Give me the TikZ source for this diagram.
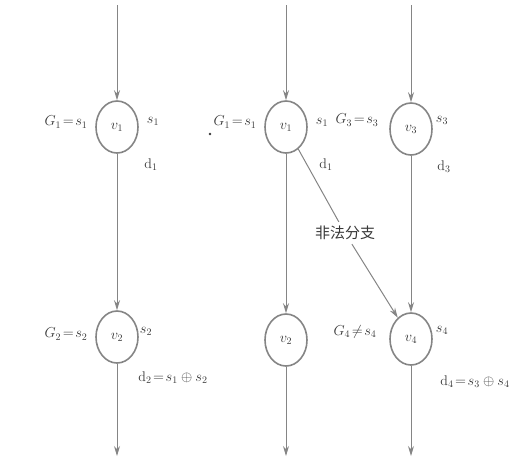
\documentclass[tikz,border=0pt]{standalone}
\usepackage{fontspec}
\newfontfamily\cjk{Noto Sans CJK SC}
\usetikzlibrary{shapes.geometric,arrows.meta}
\definecolor{linegray}{HTML}{858585}
\definecolor{txtgray}{HTML}{383838}
\begin{document}
\begin{tikzpicture}[x=1pt,y=-1pt,
  vnode/.style={ellipse,draw=linegray,line width=1.6pt,minimum width=42pt,minimum height=52pt,inner sep=0pt,text=txtgray,font=\fontsize{14}{16}\selectfont},
  lbl/.style={text=txtgray,font=\fontsize{14}{16}\selectfont,inner sep=1pt},
  conn/.style={draw=linegray,line width=1pt},
  arr/.style={conn,-{Stealth[length=10pt,width=6pt]}}]
\useasboundingbox (0,0) rectangle (516,475);
% nodes
\node[vnode] (a1) at (117,127) {$v_1$};
\node[vnode] (a2) at (117,337) {$v_2$};
\node[vnode] (b1) at (286,127) {$v_1$};
\node[vnode] (b2) at (286,340) {$v_2$};
\node[vnode] (c3) at (411,129) {$v_3$};
\node[vnode] (c4) at (411,339) {$v_4$};
% free ends
\coordinate (ta) at (117,5);
\coordinate (tb) at (286,5);
\coordinate (tc) at (411,5);
\coordinate (ea) at (117,456);
\coordinate (eb) at (286,456);
\coordinate (ec) at (411,456);
% vertical connectors
\draw[arr] (ta) -- (a1);
\draw[arr] (a1) -- (a2);
\draw[arr] (a2) -- (ea);
\draw[arr] (tb) -- (b1);
\draw[arr] (b1) -- (b2);
\draw[arr] (b2) -- (eb);
\draw[arr] (tc) -- (c3);
\draw[arr] (c3) -- (c4);
\draw[arr] (c4) -- (ec);
% illegal branch
\node[text=txtgray,font=\cjk\fontsize{15}{18}\selectfont,inner sep=4pt] (ill) at (345,233) {非法分支};
\draw[conn] (b1) -- (ill);
\draw[arr] (ill) -- (c4);
% labels
\node[lbl] (g1a) at (66,122) {$G_1\!=\!s_1$};
\node[lbl] (s1a) at (153,121) {$s_1$};
\node[lbl] (d1a) at (151,165) {$\mathrm{d}_1$};
\node[lbl] (g1b) at (235,122) {$G_1\!=\!s_1$};
\fill[txtgray] (210,134) circle (1.3pt);
\node[lbl] (s1b) at (322,122) {$s_1$};
\node[lbl] (d1b) at (326,165) {$\mathrm{d}_1$};
\node[lbl] (g3) at (357,120) {$G_3\!=\!s_3$};
\node[lbl] (s3) at (442,120) {$s_3$};
\node[lbl] (d3) at (444,167) {$\mathrm{d}_3$};
\node[lbl] (g2) at (66,334) {$G_2\!=\!s_2$};
\node[lbl] (s2) at (146,331) {$s_2$};
\node[lbl] (d2) at (173,378) {$\mathrm{d}_2\!=\!s_1\oplus s_2$};
\node[lbl] (g4) at (355,332) {$G_4\!\neq\! s_4$};
\node[lbl] (s4) at (442,330) {$s_4$};
\node[lbl] (d4) at (475,382) {$\mathrm{d}_4\!=\!s_3\oplus s_4$};
\end{tikzpicture}
\end{document}
